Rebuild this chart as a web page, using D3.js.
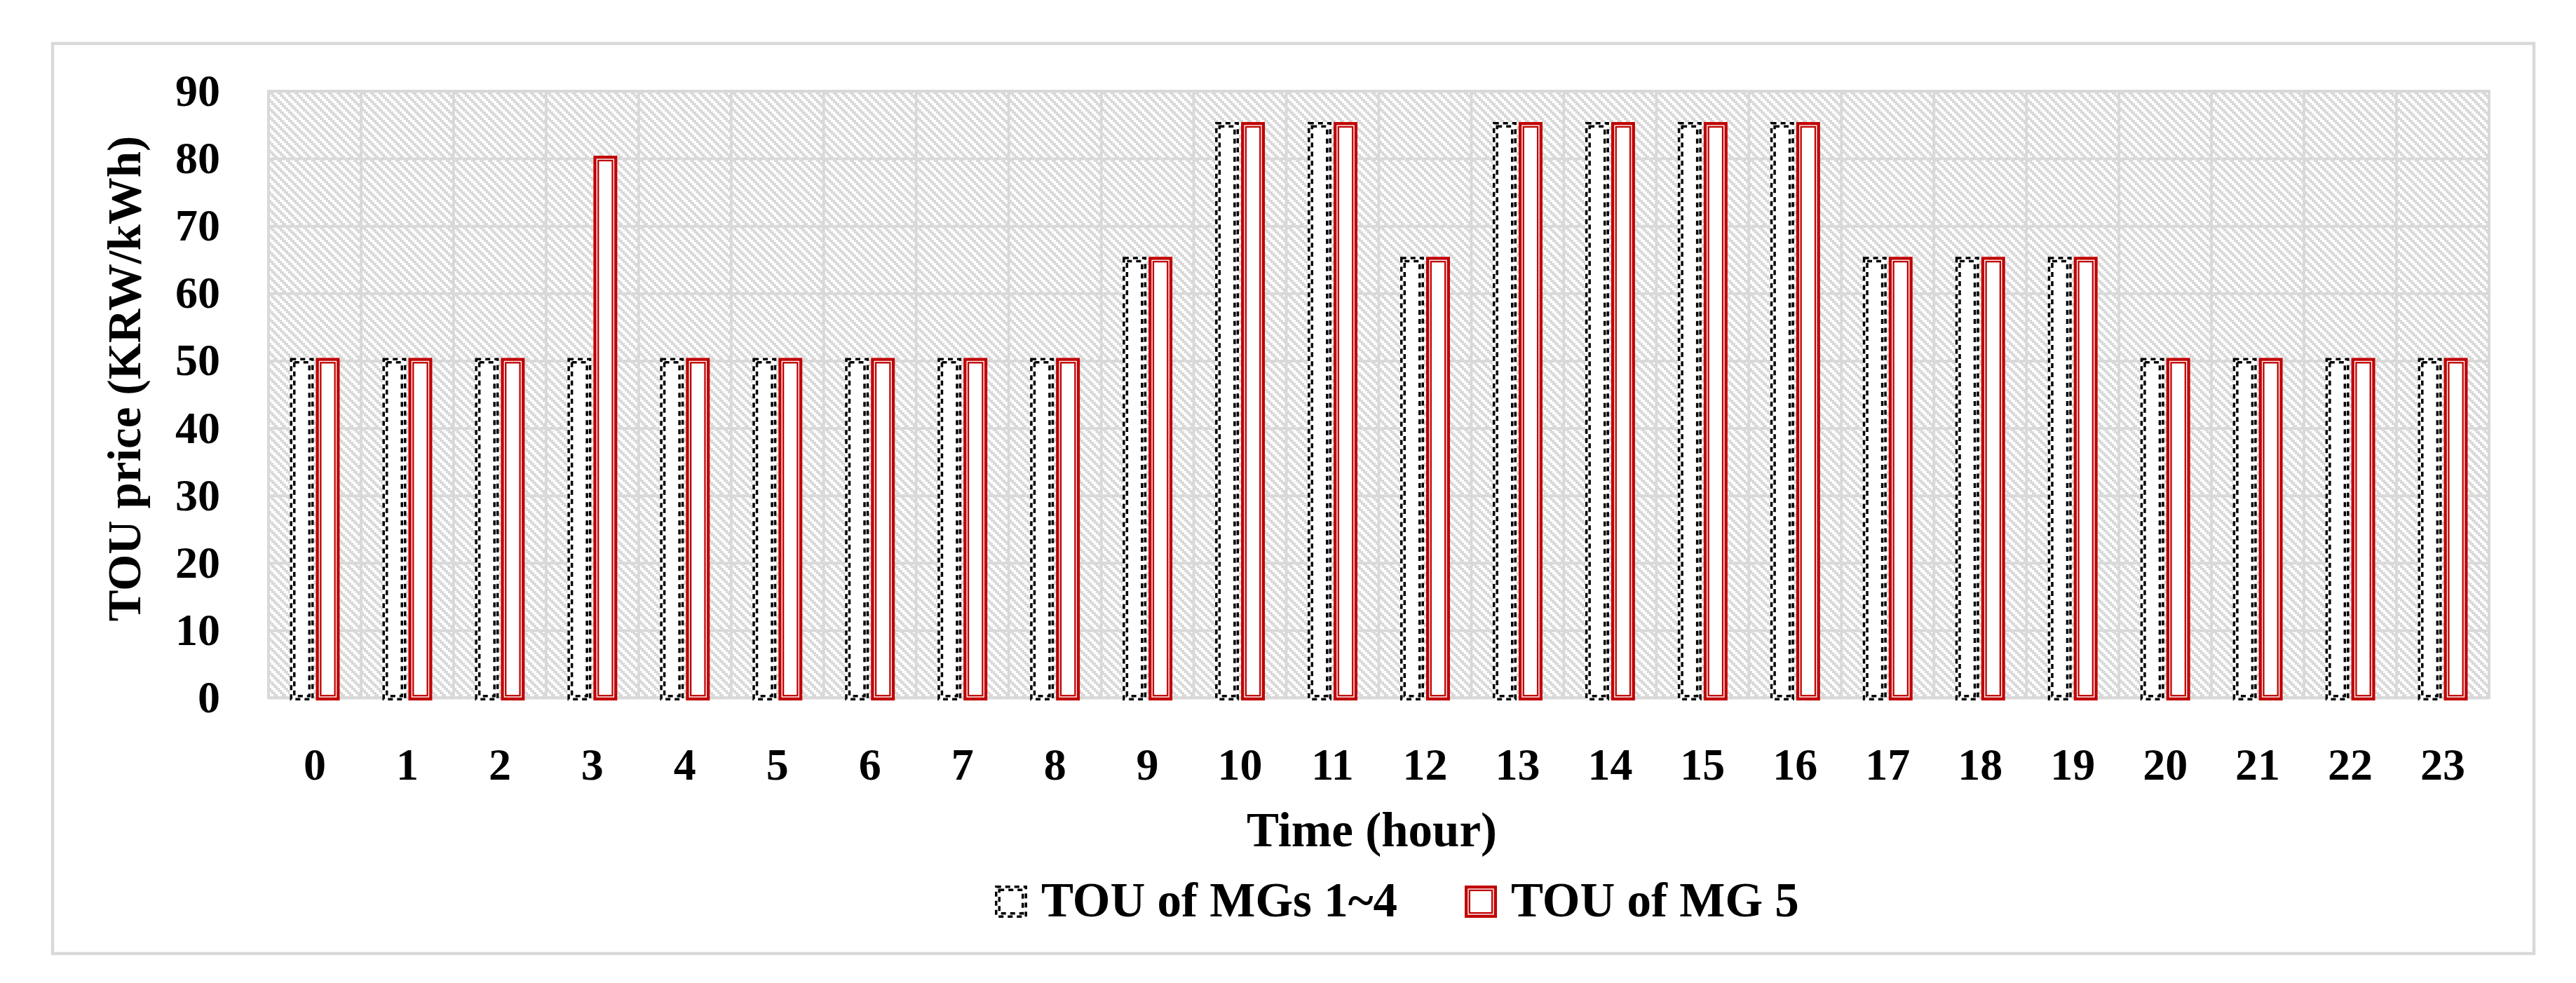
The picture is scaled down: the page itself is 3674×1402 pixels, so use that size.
<!DOCTYPE html>
<html><head><meta charset="utf-8">
<script src="https://cdn.jsdelivr.net/npm/d3@7"></script>
<style>
body{margin:0;background:#fff}
text{font-family:"Liberation Serif","Times New Roman",serif;font-weight:bold;fill:#000}
</style>
</head><body><svg id="c"></svg>
<script>
// ---- data ----
const hours = ["0","1","2","3","4","5","6","7","8","9","10","11","12","13","14","15","16","17","18","19","20","21","22","23"];
const seriesNames = ["TOU of MGs 1~4", "TOU of MG 5"];
const touMGs1to4 = [50,50,50,50,50,50,50,50,50,65,85,85,65,85,85,85,85,65,65,65,50,50,50,50];
const touMG5     = [50,50,50,80,50,50,50,50,50,65,85,85,65,85,85,85,85,65,65,65,50,50,50,50];
const yTicks = [0,10,20,30,40,50,60,70,80,90];
const xTitle = "Time (hour)";
const yTitle = "TOU price (KRW/kWh)";

// ---- layout ----
const W = 3674, H = 1402;
const P = {l:383, r:3550, t:130, b:995};
const GRID = "#d9d9d9", RED = "#c00000";

const svg = d3.select("#c").attr("width", W).attr("height", H);
svg.append("rect").attr("width", W).attr("height", H).attr("fill", "#fff");

const defs = svg.append("defs");
const pat = defs.append("pattern").attr("id","diag").attr("patternUnits","userSpaceOnUse")
  .attr("width",12).attr("height",12);
pat.append("rect").attr("width",12).attr("height",12).attr("fill","#fff");
[0,3,6,9].forEach(k => {
  pat.append("rect").attr("x",k).attr("y",k).attr("width",3).attr("height",3).attr("fill",GRID);
  pat.append("rect").attr("x",(k+3)%12).attr("y",k).attr("width",3).attr("height",3).attr("fill",GRID);
});

// outer chart border
svg.append("rect").attr("x",75).attr("y",62).attr("width",3614-75).attr("height",1360-62)
  .attr("fill","none").attr("stroke",GRID).attr("stroke-width",4.5);

const x = d3.scaleBand().domain(hours).range([P.l, P.r]).padding(0);
const xs = d3.scaleBand().domain(seriesNames).range([30.5, 101.5]).paddingInner(0.08);
const y = d3.scaleLinear().domain([0, 90]).range([P.b, P.t]);

// plot area background
svg.append("rect").attr("x",P.l).attr("y",P.t).attr("width",P.r-P.l).attr("height",P.b-P.t)
  .attr("fill","url(#diag)");

// horizontal gridlines
const gy = svg.append("g").attr("transform",`translate(${P.l},0)`)
  .call(d3.axisLeft(y).tickValues(yTicks).tickSize(-(P.r-P.l)).tickFormat(""));
gy.select(".domain").remove();
gy.selectAll("line").attr("stroke",GRID).attr("stroke-width",4);

// vertical gridlines at category boundaries
svg.append("g").selectAll("line").data(hours).join("line")
  .attr("x1", d => x(d)).attr("x2", d => x(d)).attr("y1", P.t).attr("y2", P.b)
  .attr("stroke", GRID).attr("stroke-width", 4);

// plot border
svg.append("rect").attr("x",P.l).attr("y",P.t).attr("width",P.r-P.l).attr("height",P.b-P.t)
  .attr("fill","none").attr("stroke",GRID).attr("stroke-width",4);

// ---- bars ----
function drawBlack(g, x0, top, w, h) {
  g.append("rect").attr("x",x0).attr("y",top).attr("width",w).attr("height",h).attr("fill","#fff");
  [[1.75,3.5],[6.25,3.5]].forEach(([ins,sw]) =>
    g.append("rect").attr("x",x0+ins).attr("y",top+ins).attr("width",w-2*ins).attr("height",h-2*ins)
      .attr("fill","none").attr("stroke","#000").attr("stroke-width",sw).attr("stroke-dasharray","7 6"));
}
function drawRed(g, x0, top, w, h) {
  g.append("rect").attr("x",x0).attr("y",top).attr("width",w).attr("height",h).attr("fill","#fff");
  g.append("rect").attr("x",x0+2.15).attr("y",top+2.15).attr("width",w-4.3).attr("height",h-4.3)
    .attr("fill","none").attr("stroke",RED).attr("stroke-width",4.3);
  g.append("rect").attr("x",x0+6.85).attr("y",top+6.85).attr("width",w-13.7).attr("height",h-13.7)
    .attr("fill","none").attr("stroke",RED).attr("stroke-width",2.3);
}
const seriesData = [touMGs1to4, touMG5];
const drawers = [drawBlack, drawRed];
const bars = svg.append("g");
seriesData.forEach((vals, si) => {
  vals.forEach((v, i) => {
    const x0 = x(hours[i]) + xs(seriesNames[si]);
    const top = y(v) - 4, bot = y(0) + 4;
    drawers[si](bars.append("g"), x0, top, xs.bandwidth(), bot - top);
  });
});

// ---- axes labels ----
const ya = svg.append("g").attr("transform",`translate(${P.l},0)`)
  .call(d3.axisLeft(y).tickValues(yTicks).tickSize(0).tickPadding(69));
ya.select(".domain").remove();
ya.selectAll("text").attr("font-size",64);

const xa = svg.append("g").attr("transform",`translate(0,${P.b})`)
  .call(d3.axisBottom(x).tickSize(0).tickPadding(72));
xa.select(".domain").remove();
xa.selectAll("text").attr("font-size",64);
svg.selectAll(".tick text").attr("font-family",null);

svg.append("text").attr("x",(P.l+P.r)/2 - 10).attr("y",1207).attr("text-anchor","middle")
  .attr("font-size",69).text(xTitle);
svg.append("text").attr("transform",`translate(200,540) rotate(-90)`).attr("text-anchor","middle")
  .attr("font-size",67).text(yTitle);

// ---- legend ----
const leg = [{x:1419, tx:1485}, {x:2089, tx:2155}];
seriesNames.forEach((n, si) => {
  const g = svg.append("g");
  drawers[si](g, leg[si].x, 1263, 46, 46);
  svg.append("text").attr("x",leg[si].tx).attr("y",1307).attr("font-size",69).text(n);
});
</script>
</body></html>
